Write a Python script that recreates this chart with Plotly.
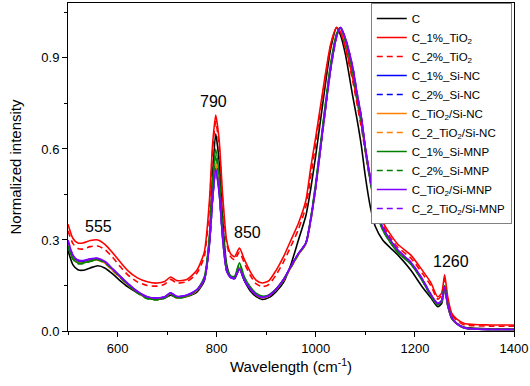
import plotly.graph_objects as go

wavenumber = [500, 510, 520, 530, 545, 560, 575, 590, 605, 620,
              640, 660, 680, 695, 707, 720, 740, 760, 775, 785,
              792, 798, 805, 812, 820, 828, 836, 846, 856, 868,
              880, 892, 905, 920, 935, 950, 965, 980, 990, 1000,
              1015, 1030, 1042, 1050, 1060, 1075, 1083, 1092, 1100, 1110,
              1120, 1135, 1150, 1166, 1192, 1215, 1232, 1246, 1254, 1260,
              1266, 1274, 1284, 1300, 1350, 1400]

c_plain = [0.265, 0.218, 0.202, 0.200, 0.208, 0.215, 0.207, 0.188, 0.166, 0.146,
           0.126, 0.111, 0.105, 0.108, 0.118, 0.110, 0.114, 0.128, 0.165, 0.300,
           0.520, 0.650, 0.560, 0.370, 0.220, 0.180, 0.172, 0.205, 0.165, 0.132,
           0.113, 0.104, 0.110, 0.130, 0.160, 0.220, 0.300, 0.380, 0.470, 0.580,
           0.760, 0.930, 1.000, 0.975, 0.910, 0.770, 0.700, 0.610, 0.510, 0.410,
           0.345, 0.300, 0.275, 0.250, 0.200, 0.145, 0.110, 0.080, 0.090, 0.140,
           0.085, 0.042, 0.025, 0.012, 0.007, 0.006]

c_1_tio2 = [0.352, 0.305, 0.290, 0.290, 0.298, 0.300, 0.285, 0.258, 0.228, 0.200,
            0.175, 0.162, 0.158, 0.163, 0.178, 0.166, 0.170, 0.200, 0.260, 0.420,
            0.620, 0.712, 0.630, 0.450, 0.300, 0.255, 0.245, 0.273, 0.235, 0.195,
            0.167, 0.158, 0.165, 0.200, 0.245, 0.300, 0.355, 0.430, 0.540, 0.640,
            0.800, 0.945, 1.000, 0.985, 0.935, 0.830, 0.760, 0.680, 0.600, 0.500,
            0.420, 0.360, 0.320, 0.285, 0.250, 0.200, 0.160, 0.112, 0.125, 0.185,
            0.115, 0.060, 0.040, 0.025, 0.020, 0.020]

c_2_tio2 = [0.330, 0.288, 0.272, 0.270, 0.278, 0.280, 0.268, 0.243, 0.213, 0.186,
            0.162, 0.150, 0.148, 0.154, 0.170, 0.158, 0.163, 0.190, 0.245, 0.400,
            0.600, 0.690, 0.610, 0.430, 0.290, 0.245, 0.235, 0.260, 0.223, 0.183,
            0.155, 0.146, 0.153, 0.185, 0.228, 0.280, 0.335, 0.410, 0.510, 0.620,
            0.790, 0.940, 1.000, 0.985, 0.930, 0.820, 0.750, 0.670, 0.590, 0.490,
            0.410, 0.350, 0.310, 0.275, 0.240, 0.190, 0.150, 0.105, 0.118, 0.170,
            0.105, 0.055, 0.035, 0.020, 0.016, 0.016]

c_1_sinc = [0.290, 0.245, 0.230, 0.228, 0.234, 0.237, 0.226, 0.203, 0.180, 0.157,
            0.130, 0.112, 0.108, 0.112, 0.125, 0.113, 0.118, 0.135, 0.170, 0.280,
            0.440, 0.535, 0.460, 0.310, 0.200, 0.178, 0.175, 0.205, 0.168, 0.140,
            0.120, 0.112, 0.117, 0.138, 0.170, 0.213, 0.255, 0.290, 0.370, 0.480,
            0.680, 0.870, 0.975, 1.000, 0.960, 0.860, 0.780, 0.700, 0.600, 0.500,
            0.410, 0.340, 0.300, 0.265, 0.225, 0.170, 0.120, 0.090, 0.100, 0.145,
            0.090, 0.045, 0.025, 0.010, 0.005, 0.005]

c_2_sinc = [0.288, 0.243, 0.228, 0.227, 0.233, 0.236, 0.225, 0.202, 0.179, 0.156,
            0.129, 0.111, 0.107, 0.111, 0.124, 0.112, 0.117, 0.134, 0.170, 0.282,
            0.445, 0.540, 0.462, 0.312, 0.201, 0.178, 0.175, 0.206, 0.168, 0.139,
            0.119, 0.111, 0.116, 0.137, 0.169, 0.212, 0.254, 0.289, 0.368, 0.478,
            0.678, 0.868, 0.974, 1.000, 0.961, 0.861, 0.781, 0.701, 0.601, 0.501,
            0.411, 0.341, 0.300, 0.265, 0.224, 0.169, 0.119, 0.089, 0.099, 0.144,
            0.089, 0.044, 0.024, 0.010, 0.005, 0.005]

c_tio2_sinc = [0.284, 0.240, 0.226, 0.225, 0.231, 0.234, 0.223, 0.200, 0.177, 0.154,
               0.127, 0.109, 0.105, 0.110, 0.123, 0.110, 0.115, 0.133, 0.172, 0.285,
               0.455, 0.555, 0.470, 0.315, 0.202, 0.179, 0.176, 0.208, 0.170, 0.140,
               0.119, 0.110, 0.116, 0.137, 0.168, 0.210, 0.252, 0.287, 0.365, 0.475,
               0.675, 0.866, 0.973, 1.000, 0.962, 0.863, 0.783, 0.702, 0.602, 0.502,
               0.410, 0.338, 0.296, 0.262, 0.222, 0.168, 0.118, 0.088, 0.098, 0.143,
               0.088, 0.044, 0.024, 0.010, 0.005, 0.005]

c_2_tio2_sinc = [0.283, 0.239, 0.225, 0.224, 0.230, 0.233, 0.222, 0.199, 0.176, 0.153,
                 0.126, 0.108, 0.104, 0.109, 0.122, 0.109, 0.114, 0.132, 0.171, 0.284,
                 0.452, 0.550, 0.468, 0.313, 0.201, 0.178, 0.175, 0.207, 0.169, 0.139,
                 0.118, 0.109, 0.115, 0.136, 0.167, 0.209, 0.251, 0.286, 0.364, 0.474,
                 0.674, 0.865, 0.972, 1.000, 0.962, 0.864, 0.784, 0.703, 0.603, 0.503,
                 0.411, 0.339, 0.297, 0.263, 0.223, 0.169, 0.119, 0.089, 0.099, 0.144,
                 0.089, 0.044, 0.024, 0.010, 0.005, 0.005]

c_1_simnp = [0.280, 0.238, 0.224, 0.224, 0.231, 0.236, 0.226, 0.204, 0.180, 0.155,
             0.127, 0.108, 0.104, 0.110, 0.124, 0.110, 0.116, 0.135, 0.178, 0.300,
             0.490, 0.600, 0.510, 0.340, 0.210, 0.182, 0.180, 0.225, 0.178, 0.145,
             0.124, 0.115, 0.119, 0.139, 0.170, 0.212, 0.254, 0.290, 0.375, 0.490,
             0.690, 0.880, 0.980, 1.000, 0.955, 0.850, 0.775, 0.695, 0.595, 0.495,
             0.405, 0.333, 0.292, 0.258, 0.220, 0.165, 0.116, 0.086, 0.098, 0.150,
             0.090, 0.045, 0.025, 0.010, 0.005, 0.005]

c_2_simnp = [0.278, 0.236, 0.222, 0.222, 0.229, 0.234, 0.224, 0.202, 0.178, 0.153,
             0.125, 0.106, 0.102, 0.108, 0.122, 0.108, 0.114, 0.133, 0.175, 0.295,
             0.478, 0.580, 0.495, 0.330, 0.207, 0.180, 0.178, 0.220, 0.175, 0.143,
             0.122, 0.113, 0.117, 0.137, 0.168, 0.210, 0.252, 0.288, 0.372, 0.486,
             0.686, 0.876, 0.978, 1.000, 0.956, 0.852, 0.776, 0.696, 0.596, 0.496,
             0.406, 0.334, 0.293, 0.259, 0.221, 0.166, 0.117, 0.087, 0.097, 0.147,
             0.089, 0.044, 0.024, 0.010, 0.005, 0.005]

c_tio2_simnp = [0.300, 0.250, 0.234, 0.232, 0.238, 0.240, 0.229, 0.205, 0.181, 0.158,
                0.131, 0.113, 0.109, 0.113, 0.126, 0.114, 0.119, 0.136, 0.170, 0.278,
                0.438, 0.535, 0.458, 0.308, 0.199, 0.177, 0.174, 0.206, 0.167, 0.139,
                0.119, 0.111, 0.117, 0.138, 0.170, 0.214, 0.256, 0.290, 0.368, 0.476,
                0.672, 0.862, 0.970, 1.000, 0.963, 0.866, 0.787, 0.705, 0.605, 0.505,
                0.413, 0.342, 0.301, 0.266, 0.226, 0.171, 0.121, 0.090, 0.100, 0.144,
                0.089, 0.045, 0.025, 0.010, 0.005, 0.005]

c_2_tio2_simnp = [0.298, 0.249, 0.233, 0.231, 0.237, 0.239, 0.228, 0.204, 0.180, 0.157,
                  0.130, 0.112, 0.108, 0.112, 0.125, 0.113, 0.118, 0.135, 0.169, 0.276,
                  0.435, 0.530, 0.455, 0.306, 0.198, 0.176, 0.173, 0.204, 0.166, 0.138,
                  0.118, 0.110, 0.116, 0.137, 0.169, 0.213, 0.255, 0.289, 0.366, 0.474,
                  0.670, 0.860, 0.968, 1.000, 0.964, 0.867, 0.788, 0.706, 0.606, 0.506,
                  0.414, 0.343, 0.302, 0.267, 0.227, 0.172, 0.122, 0.091, 0.101, 0.145,
                  0.090, 0.045, 0.025, 0.010, 0.005, 0.005]

series_names = ["C", "C_1%_TiO<sub>2</sub>", "C_2%_TiO<sub>2</sub>",
                "C_1%_Si-NC", "C_2%_Si-NC", "C_TiO<sub>2</sub>/Si-NC",
                "C_2_TiO<sub>2</sub>/Si-NC", "C_1%_Si-MNP", "C_2%_Si-MNP",
                "C_TiO<sub>2</sub>/Si-MNP", "C_2_TiO<sub>2</sub>/Si-MNP"]
series_values = [c_plain, c_1_tio2, c_2_tio2, c_1_sinc, c_2_sinc, c_tio2_sinc,
                 c_2_tio2_sinc, c_1_simnp, c_2_simnp, c_tio2_simnp, c_2_tio2_simnp]
series_colors = ["#000000", "#FF0000", "#FF0000", "#0000FF", "#0000FF", "#FF8000",
                 "#FF8000", "#008000", "#008000", "#8000FF", "#8000FF"]
series_dash = ["solid", "solid", "6px,4px", "solid", "6px,4px", "solid",
               "6px,4px", "solid", "6px,4px", "solid", "6px,4px"]

peak_labels = ["555", "790", "850", "1260"]
peak_x = [562, 794, 862, 1272]
peak_y = [0.343, 0.758, 0.323, 0.23]

for v in series_values:
    assert len(v) == len(wavenumber), len(v)

fig = go.Figure()
for name, vals, col, dash in zip(series_names, series_values, series_colors, series_dash):
    fig.add_trace(go.Scatter(x=wavenumber, y=vals, name=name, mode="lines",
                             line=dict(color=col, width=1.6, dash=dash, shape="spline", smoothing=0.6)))

for t, xv, yv in zip(peak_labels, peak_x, peak_y):
    fig.add_annotation(x=xv, y=yv, text=t, showarrow=False,
                       font=dict(size=16, color="#000000"))

font_family = "Liberation Sans, Arial, sans-serif"
fig.update_layout(
    width=530, height=386,
    margin=dict(l=68, r=16, t=3, b=55, autoexpand=False),
    paper_bgcolor="white", plot_bgcolor="white",
    font=dict(family=font_family, size=13, color="#000000"),
    showlegend=True,
    legend=dict(x=0.995, y=1.0, xanchor="right", yanchor="top",
                bgcolor="white", bordercolor="#808080", borderwidth=1,
                font=dict(size=11.5), tracegroupgap=0, itemwidth=30,
                maxheight=320),
    xaxis=dict(range=[500, 1400], tickvals=[600, 800, 1000, 1200, 1400],
               ticks="outside", ticklen=5, tickwidth=1, tickcolor="#000000",
               ticklabeloverflow="allow",
               minor=dict(tickvals=[500, 700, 900, 1100, 1300], ticks="outside", ticklen=3, tickcolor="#000000"),
               showline=True, linecolor="#000000", linewidth=1, mirror=True,
               showgrid=False, zeroline=False, automargin=False,
               title=dict(text="Wavelength (cm<sup>-1</sup>)", font=dict(size=15), standoff=5)),
    yaxis=dict(range=[0, 1.081], tickvals=[0.0, 0.3, 0.6, 0.9], tickformat=".1f",
               ticks="outside", ticklen=5, tickwidth=1, tickcolor="#000000",
               minor=dict(tickvals=[0.15, 0.45, 0.75, 1.05], ticks="outside", ticklen=3, tickcolor="#000000"),
               showline=True, linecolor="#000000", linewidth=1, mirror=True,
               showgrid=False, zeroline=False, automargin=False,
               title=dict(text="Normalized intensity", font=dict(size=15), standoff=16)),
)

fig.write_html("out.html", config={"displayModeBar": False},
               post_script="document.body.style.margin='0px';document.body.style.padding='0px';")
